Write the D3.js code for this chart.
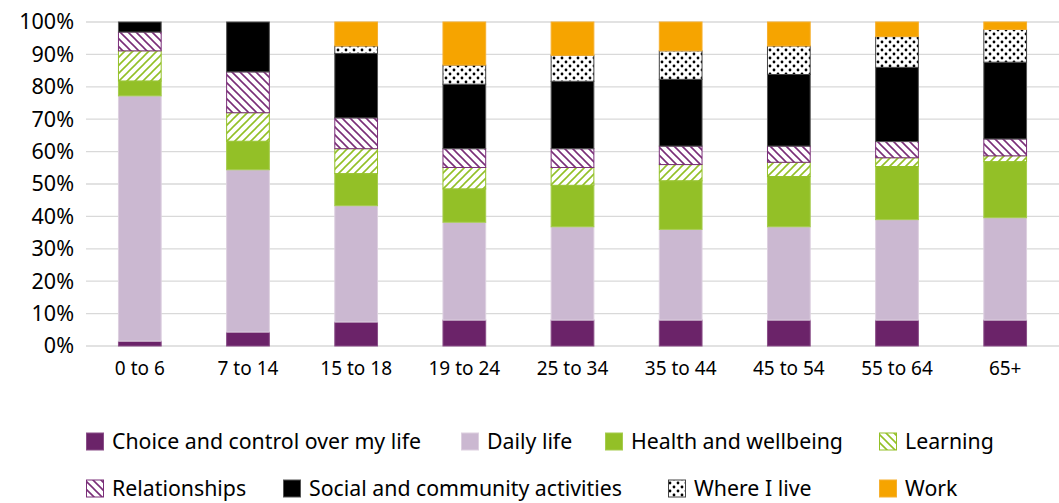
<!DOCTYPE html>
<html>
<head>
<meta charset="utf-8">
<script src="https://cdn.jsdelivr.net/npm/d3@7"></script>
<style>
  body { margin: 0; background: #fff; }
  svg text { font-family: "Noto Sans", sans-serif; fill: #000; }
</style>
</head>
<body>
<div id="chart"></div>
<script>
// Age groups along the x axis
const ageGroups = ["0 to 6", "7 to 14", "15 to 18", "19 to 24", "25 to 34", "35 to 44", "45 to 54", "55 to 64", "65+"];

// Series names, stacked from bottom to top
const seriesNames = ["Choice and control over my life", "Daily life", "Health and wellbeing", "Learning",
                     "Relationships", "Social and community activities", "Where I live", "Work"];

// Share (%) of each series in every age group
const choiceValues   = [1.5, 4.3, 7.4, 8.0, 8.0, 8.0, 8.0, 8.0, 8.0];
const dailyValues    = [75.7, 50.1, 35.9, 30.2, 28.8, 28.0, 28.8, 31.0, 31.6];
const healthValues   = [4.6, 8.8, 9.9, 10.3, 12.8, 15.0, 15.5, 16.4, 17.3];
const learningValues = [9.3, 8.8, 7.7, 6.6, 5.5, 5.0, 4.4, 2.7, 1.8];
const relValues      = [5.8, 12.6, 9.5, 5.8, 5.8, 5.7, 5.0, 5.0, 5.2];
const socialValues   = [3.1, 15.4, 19.9, 19.9, 20.8, 20.6, 22.1, 22.9, 23.7];
const whereValues    = [0, 0, 2.3, 5.9, 8.0, 8.8, 8.8, 9.5, 10.1];
const workValues     = [0, 0, 7.4, 13.3, 10.3, 8.9, 7.4, 4.5, 2.3];

const yTicks = [0, 10, 20, 30, 40, 50, 60, 70, 80, 90, 100];

const allValues = [choiceValues, dailyValues, healthValues, learningValues,
                   relValues, socialValues, whereValues, workValues];

// build the rows d3.stack wants
const table = ageGroups.map((g, i) => {
  const row = { group: g };
  seriesNames.forEach((s, j) => row[s] = allValues[j][i]);
  return row;
});

const width = 1059, height = 503;
const margin = { top: 22, right: 0, bottom: 157, left: 86 };

const svg = d3.select("#chart").append("svg")
  .attr("width", width)
  .attr("height", height);

// patterns for the hatched / dotted series
const defs = svg.append("defs");

function hatch(id, color, dir) {
  const p = defs.append("pattern")
    .attr("id", id)
    .attr("patternUnits", "userSpaceOnUse")
    .attr("width", 8).attr("height", 8);
  p.append("rect").attr("width", 8).attr("height", 8).attr("fill", "#fff");
  if (dir > 0) {
    p.append("path").attr("d", "M-2,2 L2,-2 M0,8 L8,0 M6,10 L10,6");
  } else {
    p.append("path").attr("d", "M-2,6 L2,10 M0,0 L8,8 M6,-2 L10,2");
  }
  p.select("path").attr("stroke", color).attr("stroke-width", 1.6);
}
hatch("learnHatch", "#93c027", 1);
hatch("relHatch", "#7a2e78", -1);
hatch("learnLegend", "#93c027", -1); // legend swatch is drawn the other way round

const dots = defs.append("pattern")
  .attr("id", "dots")
  .attr("patternUnits", "userSpaceOnUse")
  .attr("width", 8).attr("height", 8);
dots.append("rect").attr("width", 8).attr("height", 8).attr("fill", "#fff");
dots.append("circle").attr("cx", 2).attr("cy", 2).attr("r", 1.4).attr("fill", "#000");
dots.append("circle").attr("cx", 6).attr("cy", 6).attr("r", 1.4).attr("fill", "#000");

const fills   = ["#6b2369", "#cbb8d1", "#93c027", "url(#learnHatch)", "url(#relHatch)", "#000000", "url(#dots)", "#f6a400"];
const strokes = ["#8a4f88", "#ddd0e0", "#a6cc4e", "#93c027", "#7a2e78", "#555555", "#444444", "#f6b030"];
const legendFills = fills.slice();
legendFills[3] = "url(#learnLegend)";

const x = d3.scaleBand()
  .domain(ageGroups)
  .range([margin.left, width - margin.right])
  .paddingInner(0.605)
  .paddingOuter(0.3);

const y = d3.scaleLinear()
  .domain([0, 100])
  .range([height - margin.bottom, margin.top]);

// gridlines
svg.append("g")
  .selectAll("line")
  .data(yTicks)
  .join("line")
  .attr("x1", margin.left)
  .attr("x2", width - margin.right)
  .attr("y1", d => y(d))
  .attr("y2", d => y(d))
  .attr("stroke", "#d9d9d9")
  .attr("stroke-width", 1.3);

// y axis labels
const yAxis = svg.append("g")
  .attr("transform", `translate(${margin.left},0)`)
  .call(d3.axisLeft(y).tickValues(yTicks).tickFormat(d => d + "%").tickSize(0).tickPadding(12));
yAxis.select(".domain").remove();
yAxis.selectAll("text").style("font-size", "21.5px").attr("fill", "#000");

// x axis labels
const xAxis = svg.append("g")
  .attr("transform", `translate(0,${y(0)})`)
  .call(d3.axisBottom(x).tickSize(0).tickPadding(16));
xAxis.select(".domain").remove();
xAxis.selectAll("text").style("font-size", "19px").attr("fill", "#000");

// stacked bars
const stacked = d3.stack().keys(seriesNames)(table);

svg.append("g")
  .selectAll("g")
  .data(stacked)
  .join("g")
  .attr("fill", (d, i) => fills[i])
  .attr("stroke", (d, i) => strokes[i])
  .attr("stroke-width", 1)
  .selectAll("rect")
  .data(d => d.filter(p => p[1] - p[0] > 0))
  .join("rect")
  .attr("x", d => x(d.data.group))
  .attr("width", x.bandwidth())
  .attr("y", d => y(d[1]))
  .attr("height", d => y(d[0]) - y(d[1]));

// legend, two rows of four like the original
const legendPos = [
  [86, 442], [461, 442], [605, 442], [879, 442],
  [86, 489], [283, 489], [668, 489], [879, 489]
];

const legend = svg.append("g")
  .selectAll("g")
  .data(seriesNames)
  .join("g")
  .attr("transform", (d, i) => `translate(${legendPos[i][0]},${legendPos[i][1]})`);

legend.append("rect")
  .attr("x", 0.5).attr("y", -9)
  .attr("width", 17).attr("height", 17)
  .attr("fill", (d, i) => legendFills[i])
  .attr("stroke", (d, i) => strokes[i]);

legend.append("text")
  .attr("x", 26)
  .attr("dy", "0.35em")
  .style("font-size", "21.3px")
  .text(d => d);
</script>
</body>
</html>
